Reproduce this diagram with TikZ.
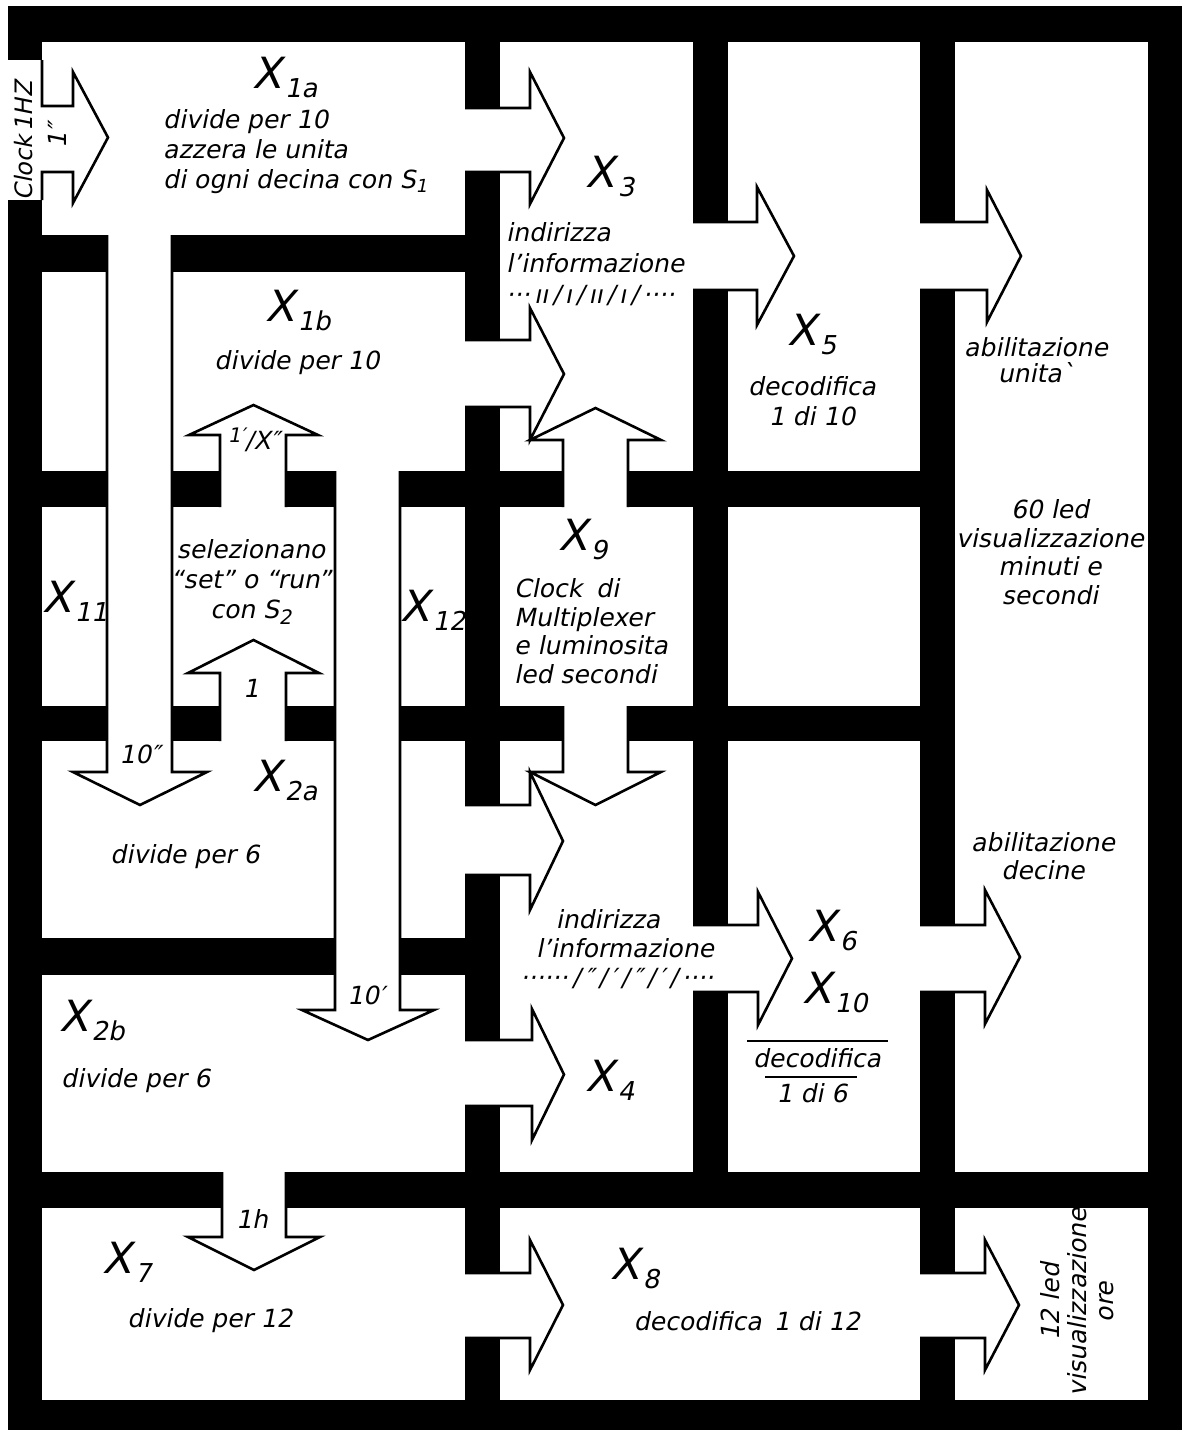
\documentclass[tikz,border=0pt]{standalone}
\usepackage{fontspec}
\setmainfont{DejaVu Sans}[FakeSlant=0.2]
\newcommand{\RArr}[8]{\path[#1] (#2,#5) -- (#3,#5) -- (#3,#7) -- (#4,{(#7+#8)/2}) -- (#3,#8) -- (#3,#6) -- (#2,#6);}
\newcommand{\VArr}[8]{\path[#1] (#5,#2) -- (#5,#3) -- (#7,#3) -- ({(#7+#8)/2},#4) -- (#8,#3) -- (#6,#3) -- (#6,#2);}
\newcommand{\AllArr}[1]{%
 \path[#1] (42,60) -- (42,106) -- (73,106) -- (73,72) -- (108,137.5) -- (73,203) -- (73,172) -- (42,172) -- (42,200);
 \RArr{#1}{465}{530}{564}{108}{172}{72}{204}
 \RArr{#1}{465}{530}{564}{340}{407}{308}{440}
 \RArr{#1}{693}{757}{794}{222}{290}{187}{325}
 \RArr{#1}{920}{987}{1021}{222}{290}{190}{322}
 \RArr{#1}{465}{530}{563}{805}{875}{772}{910}
 \RArr{#1}{693}{758}{792}{925}{992}{892}{1025}
 \RArr{#1}{920}{985}{1020}{925}{992}{890}{1024}
 \RArr{#1}{465}{532}{564}{1040}{1106}{1009}{1140}
 \RArr{#1}{465}{530}{563}{1273}{1338}{1240}{1370}
 \RArr{#1}{920}{985}{1019}{1273}{1338}{1240}{1370}
 \VArr{#1}{235}{772}{805}{107}{172}{73}{207}
 \VArr{#1}{471}{1010}{1040}{335}{400}{302}{434}
 \VArr{#1}{507}{440}{408}{563}{628}{530}{661}
 \VArr{#1}{706}{772}{805}{563}{628}{530}{661}
 \VArr{#1}{507}{435}{405}{220}{286}{189}{318}
 \VArr{#1}{741}{673}{640}{220}{286}{188}{319}
 \VArr{#1}{1172}{1237}{1270}{222}{286}{188}{320}
}
\newcommand{\XL}[1]{{\fontsize{43}{43}\selectfont X}\kern3pt\raisebox{-9pt}[0pt][0pt]{\fontsize{26}{26}\selectfont #1}}
\begin{document}
\begin{tikzpicture}[x=1pt,y=-1pt,
  outl/.style={draw=black,line width=2.6pt},
  txt/.style={inner sep=0pt,font=\fontsize{25}{30}\selectfont}]
\fill[white] (0,0) rectangle (1193,1435);
\useasboundingbox (0,0) rectangle (1193,1435);
% walls
\fill[black] (8,6) rectangle (1182,42);
\fill[black] (8,6) rectangle (42,60);
\fill[black] (8,200) rectangle (42,1430);
\fill[black] (1148,6) rectangle (1182,1430);
\fill[black] (8,1400) rectangle (1182,1430);
\fill[black] (465,42) rectangle (500,1400);
\fill[black] (693,42) rectangle (728,1172);
\fill[black] (920,42) rectangle (955,1400);
\fill[black] (42,235) rectangle (465,272);
\fill[black] (42,471) rectangle (955,507);
\fill[black] (42,706) rectangle (955,741);
\fill[black] (42,938) rectangle (465,975);
\fill[black] (42,1172) rectangle (1148,1208);
% arrows
\AllArr{fill=white}
\AllArr{outl}
% overlines
\draw[line width=2pt] (747,1041) -- (888,1041);
\draw[line width=2pt] (765,1077) -- (857,1077);
% texts
\node[txt, rotate=90, font=\fontsize{24}{24}\selectfont] (clk) at (24,141) {Clock\,1HZ};
\node[txt, rotate=90] (s1) at (57,136) {1″};
\node[txt] (x1a) at (285,73) {\XL{1a}};
\node[txt, anchor=west, align=left] (t1a) at (163,152) {divide per 10\\azzera le unita\\di ogni decina con S\raisebox{-4pt}{\fontsize{18}{18}\selectfont 1}};
\node[txt] (x1b) at (298,306) {\XL{1b}};
\node[txt] (t1b) at (297,363) {divide per 10};
\node[txt] (lx) at (254,440) {\raisebox{7pt}{\fontsize{20}{20}\selectfont 1′}/X″};
\node[txt] (x11) at (75,597) {\XL{11}};
\node[txt, align=center] (sel) at (251,582) {selezionano\\“set” o “run”\\con S\raisebox{-6pt}{\fontsize{20}{20}\selectfont 2}};
\node[txt] (x12) at (433,606) {\XL{12}};
\node[txt] (one) at (251,688) {1};
\node[txt] (ten) at (140,754) {10″};
\node[txt] (x2a) at (285,776) {\XL{2a}};
\node[txt] (t2a) at (185,857) {divide per 6};
\node[txt] (tenm) at (366,995) {10′};
\node[txt] (x2b) at (92,1016) {\XL{2b}};
\node[txt, anchor=west] (t2b) at (61,1081) {divide per 6};
\node[txt] (oneh) at (252,1219) {1h};
\node[txt] (x7) at (127,1258) {\XL{7}};
\node[txt] (t7) at (210,1321) {divide per 12};
\node[txt] (x3) at (610,172) {\XL{3}};
\node[txt, anchor=west, align=left, font=\fontsize{25}{31}\selectfont] (t3) at (506,264) {indirizza\\l’informazione\\···\,ıı\,/\,ı\,/\,ıı\,/\,ı\,/\,····};
\node[txt] (x5) at (812,330) {\XL{5}};
\node[txt, align=center] (t5) at (812,401) {decodifica\\1 di 10};
\node[txt, align=center, font=\fontsize{25}{26}\selectfont] (tu) at (1036,360) {abilitazione\\unitaˋ};
\node[txt] (x9) at (583,535) {\XL{9}};
\node[txt, anchor=west, align=left, font=\fontsize{25}{28.5}\selectfont] (t9) at (514,631) {Clock\hspace{14pt}di\\Multiplexer\\e luminosita\\led secondi};
\node[txt, align=center, font=\fontsize{25}{28.5}\selectfont] (t60) at (1050,552) {60 led\\visualizzazione\\minuti e\\secondi};
\node[txt, align=center, font=\fontsize{25}{28.5}\selectfont] (tdec) at (1043,856) {abilitazione\\decine};
\node[txt] (i1) at (608,919) {indirizza};
\node[txt] (i2) at (625,948) {l’informazione};
\node[txt] (i3) at (617,979) {······\,/\,″\,/\,′\,/\,″\,/\,′\,/\,····};
\node[txt] (x6) at (832,926) {\XL{6}};
\node[txt] (x10) at (835,988) {\XL{10}};
\node[txt] (d6a) at (817,1058) {decodifica};
\node[txt] (d6b) at (812,1093) {1 di 6};
\node[txt] (x4) at (610,1076) {\XL{4}};
\node[txt] (x8) at (635,1264) {\XL{8}};
\node[txt] (t8) at (747,1321) {decodifica\hspace{12pt}1 di 12};
\node[txt, rotate=90, align=center, font=\fontsize{25}{27}\selectfont] (t12) at (1077,1302) {12 led\\visualizzazione\\ore};
\end{tikzpicture}
\end{document}
